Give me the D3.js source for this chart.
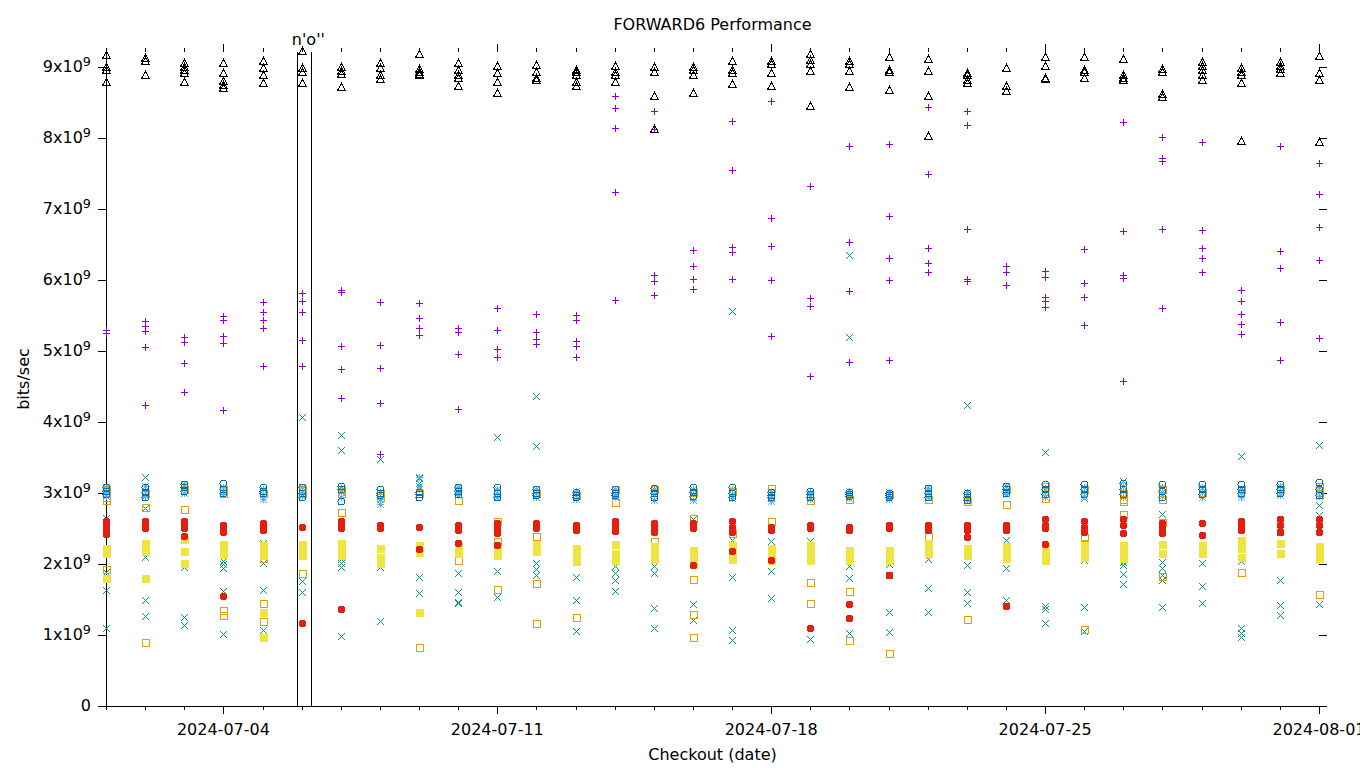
<!DOCTYPE html>
<html><head><meta charset="utf-8">
<script src="https://cdn.jsdelivr.net/npm/d3@7"></script>
<style>
body{margin:0;background:#fff}
text{font-family:"DejaVu Sans",sans-serif;fill:#000}
</style>
</head><body>
<svg id="chart" width="1360" height="768"></svg>
<script>
// ---------- data (values in units of 1e9 bits/sec) ----------
const dates = ["2024-07-01","2024-07-02","2024-07-03","2024-07-04","2024-07-05","2024-07-06","2024-07-07","2024-07-08",
  "2024-07-09","2024-07-10","2024-07-11","2024-07-12","2024-07-13","2024-07-14","2024-07-15","2024-07-16",
  "2024-07-17","2024-07-18","2024-07-19","2024-07-20","2024-07-21","2024-07-22","2024-07-23","2024-07-24",
  "2024-07-25","2024-07-26","2024-07-27","2024-07-28","2024-07-29","2024-07-30","2024-07-31","2024-08-01"];
const xTickLabels = ["2024-07-04","2024-07-11","2024-07-18","2024-07-25","2024-08-01"];
const yTickValues = [0,1,2,3,4,5,6,7,8,9];
const annotationDates = ["2024-07-05T21:20","2024-07-06T06:00"];
const annotationLabel = "n'o''";

const purple = [
 [5.30,5.25],[5.42,5.35,5.28,5.06,4.24],[5.20,5.13,4.83,4.42],[5.49,5.44,5.21,5.11,4.17],
 [5.69,5.55,5.44,5.32,4.79],[5.82,5.70,5.55,5.16,4.79],[5.86,5.83,5.07,4.75,4.34],[5.69,5.08,4.76,4.27,3.55],
 [5.68,5.47,5.32,5.23],[5.32,5.27,4.96,4.18],[5.61,5.30,5.03,4.92],[5.52,5.27,5.17,5.10],
 [5.50,5.44,5.14,5.07,4.92],[8.59,8.42,8.14,7.24,5.72],[8.38,8.13,6.07,5.99,5.79],[6.42,6.20,6.01,5.87],
 [8.24,7.55,6.46,6.39,6.01],[8.52,6.87,6.48,6.00,5.21],[7.32,5.75,5.63,4.65],[7.88,6.53,5.84,4.84],
 [7.92,6.90,6.31,6.00,4.87],[8.43,7.49,6.45,6.24,6.11],[8.38,8.18,6.72,6.01,5.99],[6.20,6.11,5.93],
 [6.13,6.04,5.76,5.70,5.62],[6.43,5.96,5.76,5.37],[8.22,6.69,6.07,6.03,4.58],[8.01,7.72,7.68,6.72,5.61],
 [7.94,6.70,6.45,6.31,6.11],[5.86,5.70,5.52,5.38,5.24],[7.89,6.41,6.17,5.41,4.87],[7.65,7.21,6.75,6.28,5.18]];
const green = [
 [2.65,2.14,1.89,1.63,1.10],[3.22,2.79,2.10,1.49,1.27],[1.96,1.25,1.14],[2.04,2.00,1.94,1.62,1.01],
 [2.30,2.02,1.63,1.07],[4.07,1.76,1.60],[3.82,3.60,2.07,2.01,1.96,0.99],[3.48,1.96,1.20],
 [3.21,3.14,1.82,1.59],[1.88,1.60,1.46,1.45],[3.79,1.90,1.53],[4.37,3.66,2.01,1.93,1.85],
 [1.82,1.49,1.06],[1.97,1.88,1.78,1.62],[1.97,1.87,1.38,1.10],[2.64,1.43,1.21],
 [5.56,2.34,1.82,1.07,0.93],[2.32,2.20,1.90,1.52],[2.32,0.94],[6.35,5.20,1.97,1.80,1.03],
 [2.00,1.84,1.33,1.04],[2.07,1.66,1.32],[4.24,1.98,1.60,1.45],[2.34,1.94,1.49],
 [3.58,1.41,1.37,1.17],[2.93,2.06,1.40,1.06],[3.17,2.03,1.99,1.86,1.72],[2.70,2.03,1.95,1.85,1.78,1.39],
 [2.01,1.69,1.45],[3.52,2.04,1.10,1.03,0.97],[2.45,1.77,1.42,1.28],[3.68,2.83,2.69,1.43]];
const lightBlue = [
 [3.08,3.02,2.96],[3.10,3.03,2.96],[3.12,3.06,3.00],[3.08,3.02,2.98],[3.05,2.98,2.92],[3.08,3.02,2.96],
 [3.07,3.01,2.95],[3.02,2.92,2.85],[3.22,3.10,3.05],[3.08,3.02,2.97],[3.06,3.00,2.95],[3.06,3.00,2.95],
 [3.03,2.97,2.92],[3.05,2.99,2.94],[3.05,2.98,2.90],[3.05,2.98,2.90],[3.05,2.99,2.93],[3.02,2.95,2.88],
 [3.02,2.97,2.92],[3.03,2.98,2.93],[3.02,2.96,2.91],[3.07,3.00,2.95],[3.02,2.96,2.90],[3.10,3.04,2.98],
 [3.07,3.01,2.95],[3.08,3.02,2.96],[3.10,3.03,2.95],[3.08,3.02,2.96],[3.08,3.02,2.94],[3.06,3.00,2.94],
 [3.10,3.04,2.97],[3.08,3.02,2.96]];
const orange = [
 [3.05,2.95,2.90,1.93],[3.00,2.80,0.90],[3.05,2.78],[3.05,3.00,1.35,1.28],
 [3.00,2.08,1.45,1.20],[3.05,3.00,1.87],[3.05,3.00,2.73],[3.00,2.95],
 [3.00,0.83],[2.90,2.05],[2.60,2.32,1.65],[3.00,2.40,1.73,1.17],
 [2.97,1.25],[3.05,2.87],[3.05,2.32],[3.02,2.65,1.79,1.30,0.97],
 [3.03,2.43],[3.07,2.60],[2.90,1.75,1.45],[2.92,1.62,0.93],
 [2.98,0.75],[2.92,2.40],[2.88,1.22],[3.05,2.84],
 [3.10,2.93],[3.05,2.38,2.30,1.08],[3.00,2.92,2.88,2.71],[3.05,2.92,2.59,1.83],
 [3.02],[3.05,1.89],[3.05],[3.10,2.98,1.58]];
const yellow = [
 [2.22,2.15,1.80],[2.30,2.25,2.18,1.80],[2.35,2.18,2.02],[2.28,2.20,2.14],
 [2.27,2.20,2.13,1.32,0.97],[2.28,2.20,2.13],[2.30,2.22,2.13],[2.22,2.10,2.02],
 [2.27,2.17,1.32],[2.25,2.15],[2.20,2.12],[2.28,2.18],
 [2.22,2.12,2.04],[2.28,2.15,2.06],[2.25,2.16,2.07],[2.20,2.10,2.00],
 [2.27,2.17,2.07],[2.22,2.12,2.05],[2.27,2.17,2.05],[2.20,2.12,2.05],
 [2.20,2.12,2.05],[2.30,2.20,2.15],[2.22,2.12],[2.25,2.15,2.08],
 [2.25,2.15,2.05],[2.27,2.18,2.10],[2.27,2.17,2.08],[2.28,2.15],
 [2.27,2.15],[2.34,2.22,2.10],[2.30,2.15],[2.25,2.15,2.08]];
const blue = [
 [3.08,3.03,2.98],[3.08,3.02,2.95],[3.12,3.08,3.03],[3.14,3.05,3.00],[3.08,3.03,3.00],[3.08,3.00,2.94],
 [3.10,3.05,2.89],[3.05,3.00,2.97],[3.02,2.98,2.95],[3.08,3.03,2.98],[3.08,3.00,2.95],[3.05,3.00,2.97],
 [3.02,2.97,2.94],[3.05,3.00,2.97],[3.07,3.00,2.95],[3.08,3.02,2.96],[3.08,3.00,2.95],[3.02,2.97,2.94],
 [3.03,2.99,2.95],[3.02,2.98,2.96],[3.00,2.97,2.94],[3.07,3.00,2.95],[3.00,2.95,2.90],[3.10,3.05,3.00],
 [3.12,3.05,2.98],[3.12,3.05,2.98],[3.14,3.05,2.98],[3.12,3.03,2.95],[3.12,3.05,2.98],[3.13,3.06,3.00],
 [3.13,3.06,3.00],[3.15,3.05,2.97]];
const red = [
 [2.60,2.55,2.50,2.45,2.42],[2.60,2.55,2.50],[2.60,2.55,2.50,2.40],[2.55,2.50,2.45,1.55],
 [2.58,2.53,2.48],[2.52,1.17],[2.60,2.55,2.50,1.37],[2.55,2.50],
 [2.52,2.21],[2.55,2.48,2.29],[2.58,2.50,2.43,2.27],[2.58,2.50],
 [2.55,2.48],[2.60,2.53,2.46],[2.58,2.52,2.45],[2.58,2.50,1.98],
 [2.60,2.52,2.45,2.18],[2.52,2.48,2.06],[2.55,2.50,1.10],[2.52,2.48,1.43,1.24],
 [2.55,2.50,1.84],[2.55,2.48],[2.55,2.48,2.38],[2.55,2.48,1.41],
 [2.63,2.55,2.50,2.28],[2.60,2.52,2.45],[2.63,2.55,2.44],[2.58,2.50,2.44],
 [2.58,2.41],[2.60,2.55,2.48],[2.63,2.55,2.45],[2.63,2.55,2.45]];
const black = [
 [9.17,9.00,8.95,8.79],[9.12,9.08,8.88],[9.05,9.00,8.95,8.92,8.79],[9.05,8.92,8.80,8.75,8.70],
 [9.08,8.98,8.88,8.77],[9.22,8.98,8.93,8.78],[9.00,8.94,8.90,8.72],[9.06,8.99,8.89,8.83],
 [9.18,8.97,8.93,8.90,8.88],[9.05,8.96,8.89,8.85,8.73],[9.01,8.92,8.79,8.63],[9.03,8.93,8.85,8.82],
 [8.96,8.93,8.89,8.79,8.73],[9.01,8.93,8.89,8.79],[9.00,8.93,8.59,8.13],[9.00,8.96,8.89,8.63],
 [9.08,8.96,8.92,8.76],[9.08,9.04,8.92,8.73],[9.18,9.10,9.04,8.94,8.45],[9.08,9.04,8.94,8.72],
 [9.14,8.96,8.93,8.68],[9.11,8.94,8.59,8.03],[8.92,8.89,8.82,8.78],[8.99,8.73,8.66],
 [9.14,9.01,8.85,8.83],[9.14,8.96,8.93,8.85],[9.11,8.89,8.85,8.82],[8.97,8.93,8.62,8.58],
 [9.07,9.01,8.96,8.89,8.82],[8.99,8.93,8.89,8.77,7.96],[9.07,9.01,8.97,8.92],[9.15,8.92,8.82,7.94]];

const seriesList = [
  {vals: purple, color: "#9400d3", shape: "plus"},
  {vals: green, color: "#009e73", shape: "cross"},
  {vals: lightBlue, color: "#56b4e9", shape: "star"},
  {vals: orange, color: "#e69f00", shape: "square"},
  {vals: yellow, color: "#f0e442", shape: "fsquare"},
  {vals: blue, color: "#0072b2", shape: "circle"},
  {vals: red, color: "#e51e10", shape: "fcircle"},
  {vals: black, color: "#000000", shape: "triangle"}
];

// ---------- layout ----------
const L = 106, R = 1319, T = 52, B = 706;
const FS = 16;
const parse = d3.timeParse("%Y-%m-%d");
const parseT = d3.timeParse("%Y-%m-%dT%H:%M");
const svg = d3.select("#chart");

const x = d3.scaleTime().domain([parse(dates[0]), parse(dates[dates.length-1])]).range([L, R]);
const y = d3.scaleLinear().domain([0, 9.21]).range([B, T]);

// axes
const g = svg.append("g").attr("shape-rendering","crispEdges");
const dayDates = dates.map(parse);
const majorDates = xTickLabels.map(parse);
function styleAxis(sel){ sel.select(".domain").remove(); sel.selectAll("line").attr("stroke","#000"); sel.selectAll("text").remove(); }

g.append("g").attr("transform",`translate(0,${B})`).call(d3.axisBottom(x).tickValues(dayDates).tickSize(4)).call(styleAxis);
g.append("g").attr("transform",`translate(0,${B})`).call(d3.axisBottom(x).tickValues(majorDates).tickSize(8)).call(styleAxis);
g.append("g").attr("transform",`translate(0,${T})`).call(d3.axisTop(x).tickValues(dayDates).tickSize(4)).call(styleAxis);
g.append("g").attr("transform",`translate(0,${T})`).call(d3.axisTop(x).tickValues(majorDates).tickSize(8)).call(styleAxis);
g.append("g").attr("transform",`translate(${L},0)`).call(d3.axisLeft(y).tickValues(yTickValues).tickSize(8)).call(styleAxis);
g.append("g").attr("transform",`translate(${R},0)`).call(d3.axisRight(y).tickValues(yTickValues).tickSize(8)).call(styleAxis);

// border (left + bottom)
g.append("line").attr("x1",L).attr("x2",L).attr("y1",T).attr("y2",B).attr("stroke","#000");
g.append("line").attr("x1",L).attr("x2",R).attr("y1",B).attr("y2",B).attr("stroke","#000");

// x tick labels
svg.append("g").selectAll("text").data(majorDates).join("text")
  .attr("x", d => x(d)).attr("y", 735).attr("text-anchor","middle").attr("font-size",FS)
  .text(d => d3.timeFormat("%Y-%m-%d")(d));

// y tick labels
const yl = svg.append("g").selectAll("text").data(yTickValues).join("text")
  .attr("x", 91).attr("y", d => y(d) + 5).attr("text-anchor","end").attr("font-size",FS);
yl.each(function(d){
  const t = d3.select(this);
  if (d === 0) { t.text("0"); return; }
  t.append("tspan").text(d + "x10");
  t.append("tspan").attr("dy",-6).attr("font-size",12.8).text("9");
});

// titles
svg.append("text").attr("x",(L+R)/2).attr("y",30).attr("text-anchor","middle").attr("font-size",FS).text("FORWARD6 Performance");
svg.append("text").attr("x",(L+R)/2).attr("y",760).attr("text-anchor","middle").attr("font-size",FS).text("Checkout (date)");
svg.append("text").attr("transform",`translate(29,${(T+B)/2}) rotate(-90)`).attr("text-anchor","middle").attr("font-size",FS).text("bits/sec");

// annotation lines
const ann = annotationDates.map(parseT);
g.selectAll(".ann").data(ann).join("line").attr("class","ann")
  .attr("x1", d => Math.round(x(d))+0.5).attr("x2", d => Math.round(x(d))+0.5)
  .attr("y1", T).attr("y2", B).attr("stroke","#000");
svg.append("text").attr("x", (x(ann[0])+x(ann[1]))/2 + 4).attr("y", 45).attr("text-anchor","middle")
  .attr("font-size",FS).text(annotationLabel);

// markers
const s = 3.5;
const shapes = {
  plus: `M${-s},0H${s}M0,${-s}V${s}`,
  cross: `M${-s},${-s}L${s},${s}M${-s},${s}L${s},${-s}`,
  star: `M${-s},0H${s}M0,${-s}V${s}M${-s},${-s}L${s},${s}M${-s},${s}L${s},${-s}`,
  square: `M${-s},${-s}H${s}V${s}H${-s}Z`,
  fsquare: `M${-s},${-s}H${s}V${s}H${-s}Z`,
  circle: d3.symbol(d3.symbolCircle, Math.PI*s*s)(),
  fcircle: d3.symbol(d3.symbolCircle, Math.PI*3.2*3.2)(),
  triangle: `M0,-4L4,3L-4,3Z`
};
const filled = {fsquare:true, fcircle:true};

const mg = svg.append("g");
seriesList.forEach(ser => {
  const pts = [];
  ser.vals.forEach((arr, i) => arr.forEach(v => pts.push({d: dayDates[i], v})));
  mg.append("g").selectAll("path").data(pts).join("path")
    .attr("transform", p => `translate(${Math.round(x(p.d))+0.5},${Math.round(y(p.v))+0.5})`)
    .attr("d", shapes[ser.shape])
    .attr("fill", filled[ser.shape] ? ser.color : "none")
    .attr("stroke", ser.color)
    .attr("stroke-width", 1)
    .attr("shape-rendering", "crispEdges");
});
</script>
</body></html>
